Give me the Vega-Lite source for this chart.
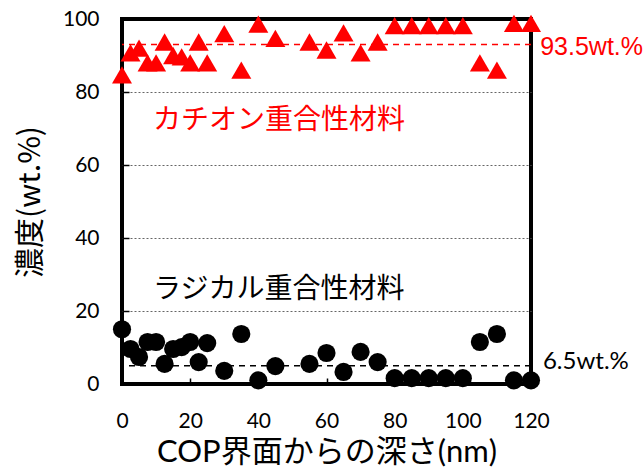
{
  "$schema": "https://vega.github.io/schema/vega-lite/v6.json",
  "autosize": "none",
  "width": 409,
  "height": 365,
  "padding": {"left": 122, "top": 19, "right": 113, "bottom": 90},
  "background": "white",
  "config": {
    "view": {"stroke": "black", "strokeWidth": 4},
    "axis": {
      "labelFont": "Lato, 'Noto Sans CJK JP'",
      "labelFontSize": 21,
      "labelColor": "black",
      "titleFont": "Lato, 'Noto Sans CJK JP'",
      "titleColor": "black",
      "titleFontWeight": "normal",
      "domain": false,
      "tickColor": "black",
      "tickWidth": 1.5
    }
  },
  "datasets": {
    "cation": [
      {"depth": 0, "conc": 84.7}, {"depth": 2.5, "conc": 90.7}, {"depth": 5, "conc": 92}, {"depth": 7.5, "conc": 88},
      {"depth": 10, "conc": 88}, {"depth": 12.5, "conc": 93.7}, {"depth": 15, "conc": 90}, {"depth": 17.5, "conc": 89.6},
      {"depth": 20, "conc": 88}, {"depth": 22.5, "conc": 93.7}, {"depth": 25, "conc": 88}, {"depth": 30, "conc": 96},
      {"depth": 35, "conc": 86}, {"depth": 40, "conc": 98.6}, {"depth": 45, "conc": 94.7}, {"depth": 55, "conc": 93.7},
      {"depth": 60, "conc": 91.5}, {"depth": 65, "conc": 96.2}, {"depth": 70, "conc": 90.7}, {"depth": 75, "conc": 93.7},
      {"depth": 80, "conc": 98.2}, {"depth": 85, "conc": 98.2}, {"depth": 90, "conc": 98.2}, {"depth": 95, "conc": 98.2},
      {"depth": 100, "conc": 98.2}, {"depth": 105, "conc": 88}, {"depth": 110, "conc": 86}, {"depth": 115, "conc": 98.8},
      {"depth": 120, "conc": 98.8}
    ],
    "radical": [
      {"depth": 0, "conc": 15}, {"depth": 2.5, "conc": 9.6}, {"depth": 5, "conc": 7.4}, {"depth": 7.5, "conc": 11.5},
      {"depth": 10, "conc": 11.5}, {"depth": 12.5, "conc": 5.5}, {"depth": 15, "conc": 9.6}, {"depth": 17.5, "conc": 10.1},
      {"depth": 20, "conc": 11.5}, {"depth": 22.5, "conc": 6}, {"depth": 25, "conc": 11.2}, {"depth": 30, "conc": 3.6},
      {"depth": 35, "conc": 13.7}, {"depth": 40, "conc": 1}, {"depth": 45, "conc": 4.9}, {"depth": 55, "conc": 5.5},
      {"depth": 60, "conc": 8.5}, {"depth": 65, "conc": 3.3}, {"depth": 70, "conc": 8.8}, {"depth": 75, "conc": 6},
      {"depth": 80, "conc": 1.6}, {"depth": 85, "conc": 1.6}, {"depth": 90, "conc": 1.6}, {"depth": 95, "conc": 1.6},
      {"depth": 100, "conc": 1.6}, {"depth": 105, "conc": 11.5}, {"depth": 110, "conc": 13.7}, {"depth": 115, "conc": 1},
      {"depth": 120, "conc": 1}
    ]
  },
  "layer": [
    {
      "data": {"values": [{"level": 93}]},
      "mark": {"type": "rule", "color": "red", "strokeWidth": 1.5, "strokeDash": [6, 5]},
      "encoding": {
        "y": {
          "field": "level", "type": "quantitative",
          "scale": {"domain": [0, 100], "nice": false, "zero": true},
          "axis": {
            "values": [0, 10, 20, 30, 40, 50, 60, 70, 80, 90, 100],
            "labelExpr": "datum.value % 20 === 0 ? datum.label : ''",
            "offset": -7,
            "tickSize": 7,
            "labelPadding": 23,
            "grid": true,
            "gridColor": "#666",
            "gridDash": [2, 2],
            "gridWidth": 1,
            "gridOpacity": {"condition": {"test": "datum.value % 20 === 0 && datum.value > 0 && datum.value < 100", "value": 1}, "value": 0},
            "title": "濃度(wt.%)",
            "titleFont": "'Noto Sans CJK JP'",
            "titleFontSize": 30,
            "titlePadding": 17
          }
        }
      }
    },
    {
      "data": {"values": [{"level": 5}]},
      "mark": {"type": "rule", "color": "black", "strokeWidth": 1.5, "strokeDash": [6, 5]},
      "encoding": {"y": {"field": "level", "type": "quantitative"}}
    },
    {
      "data": {"name": "cation"},
      "mark": {"type": "point", "shape": "triangle-up", "filled": true, "color": "red", "size": 400, "opacity": 1},
      "encoding": {
        "x": {
          "field": "depth", "type": "quantitative",
          "scale": {"domain": [0, 120], "nice": false},
          "axis": {
            "values": [0, 10, 20, 30, 40, 50, 60, 70, 80, 90, 100, 110, 120],
            "labelExpr": "datum.value % 20 === 0 ? datum.label : ''",
            "offset": -6,
            "tickSize": 6,
            "labelPadding": 26,
            "grid": false,
            "labelFlush": false,
            "title": "COP界面からの深さ(nm)",
            "titleFontSize": 31,
            "titlePadding": 6
          }
        },
        "y": {"field": "conc", "type": "quantitative"}
      }
    },
    {
      "data": {"name": "radical"},
      "mark": {"type": "point", "shape": "circle", "filled": true, "color": "black", "size": 330, "opacity": 1},
      "encoding": {
        "x": {"field": "depth", "type": "quantitative"},
        "y": {"field": "conc", "type": "quantitative"}
      }
    },
    {
      "data": {"values": [{"x": 9.1, "y": 72.0, "label": "カチオン重合性材料"}]},
      "mark": {"type": "text", "align": "left", "baseline": "middle", "font": "'Noto Sans CJK JP'", "fontSize": 28, "color": "red"},
      "encoding": {"x": {"field": "x", "type": "quantitative"}, "y": {"field": "y", "type": "quantitative"}, "text": {"field": "label"}}
    },
    {
      "data": {"values": [{"x": 9.1, "y": 25.7, "label": "ラジカル重合性材料"}]},
      "mark": {"type": "text", "align": "left", "baseline": "middle", "font": "'Noto Sans CJK JP'", "fontSize": 28, "color": "black"},
      "encoding": {"x": {"field": "x", "type": "quantitative"}, "y": {"field": "y", "type": "quantitative"}, "text": {"field": "label"}}
    },
    {
      "data": {"values": [{"x": 122.7, "y": 92.3, "label": "93.5wt.%"}]},
      "mark": {"type": "text", "align": "left", "baseline": "middle", "font": "Liberation Sans", "fontSize": 25, "color": "red"},
      "encoding": {"x": {"field": "x", "type": "quantitative"}, "y": {"field": "y", "type": "quantitative"}, "text": {"field": "label"}}
    },
    {
      "data": {"values": [{"x": 123.5, "y": 6.0, "label": "6.5wt.%"}]},
      "mark": {"type": "text", "align": "left", "baseline": "middle", "font": "Lato", "fontSize": 24, "color": "black"},
      "encoding": {"x": {"field": "x", "type": "quantitative"}, "y": {"field": "y", "type": "quantitative"}, "text": {"field": "label"}}
    }
  ]
}
